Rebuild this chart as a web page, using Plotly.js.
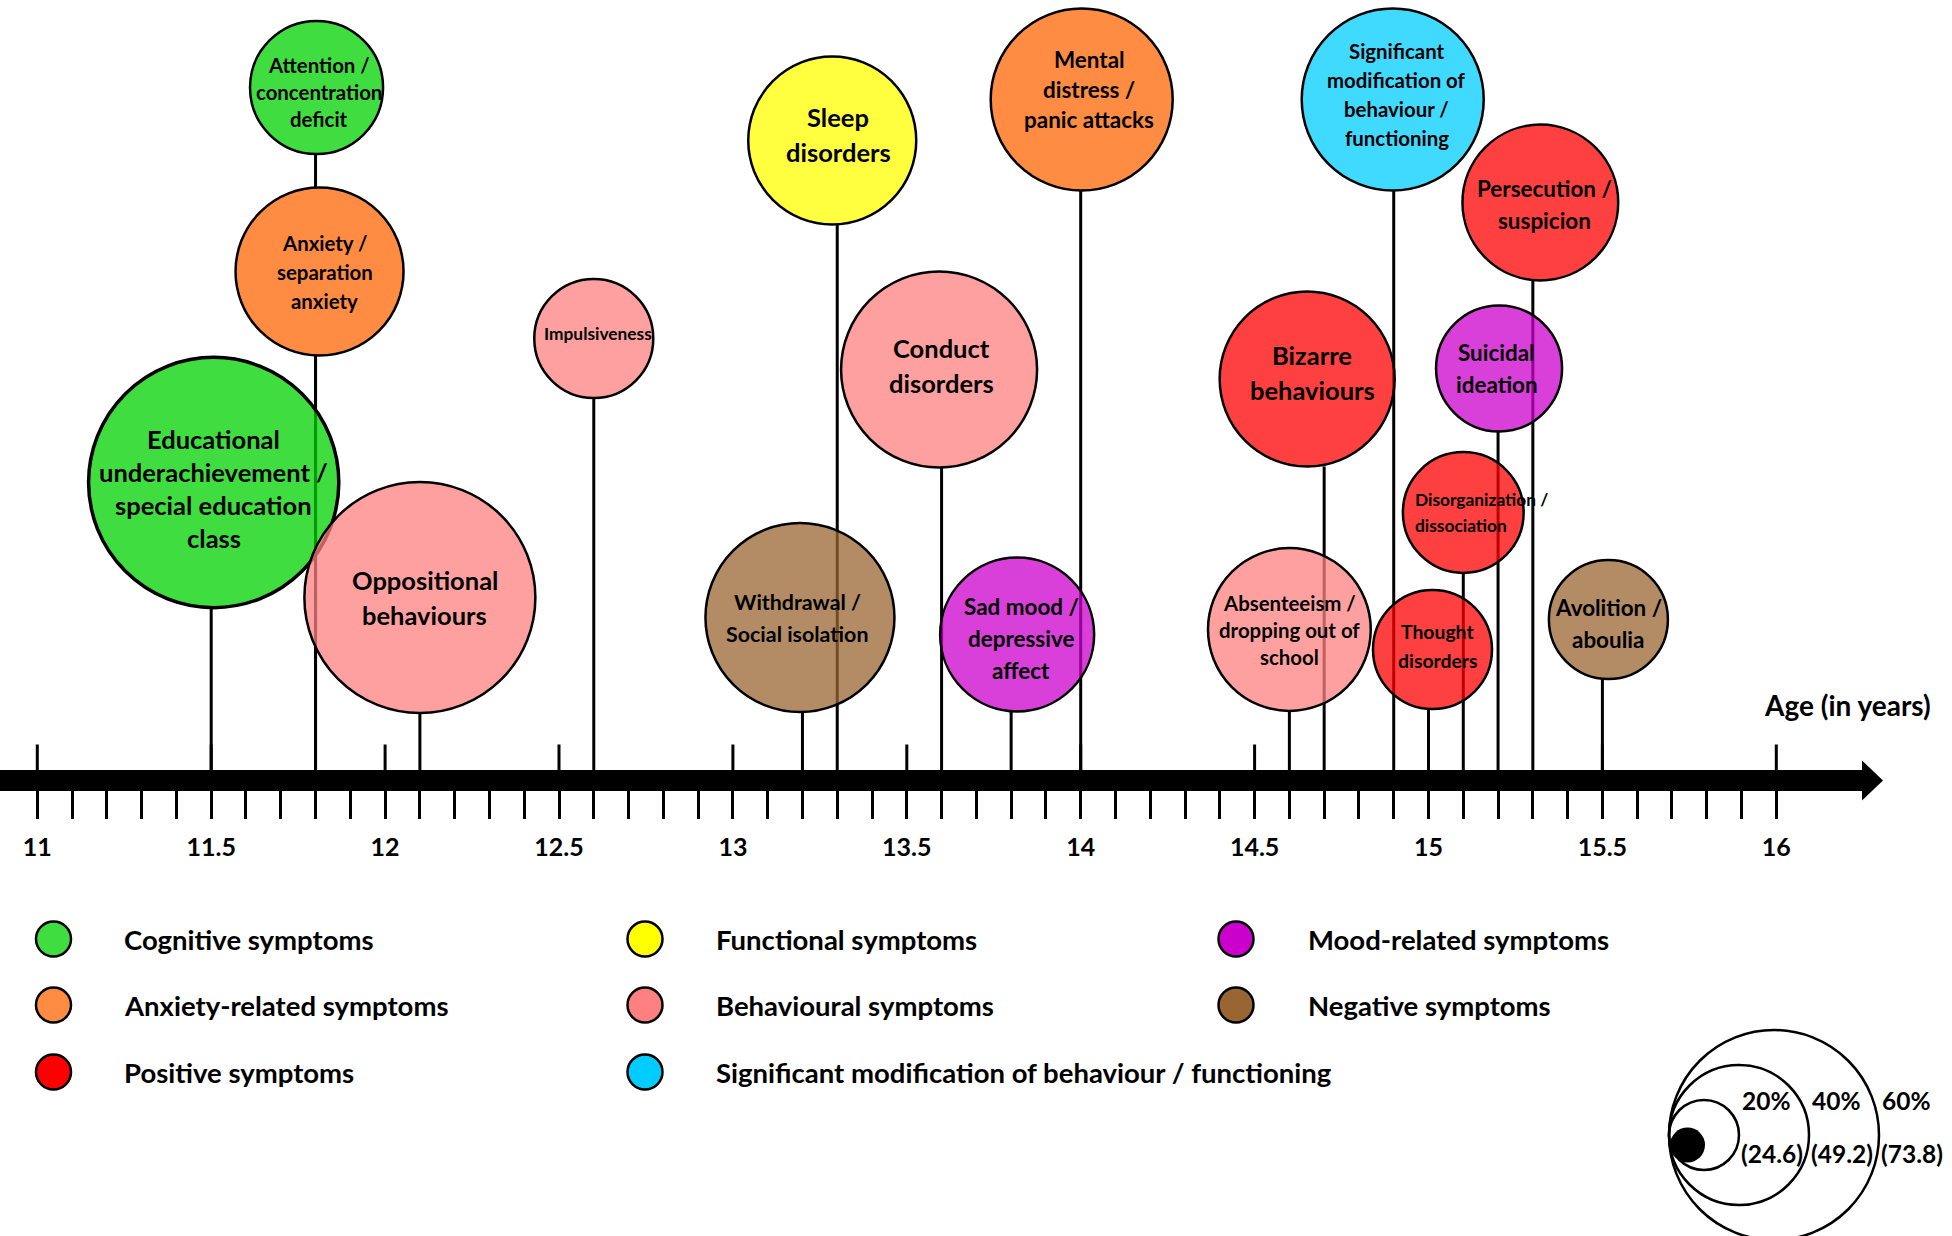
<!DOCTYPE html>
<html><head><meta charset="utf-8">
<script src="https://cdn.plot.ly/plotly-3.0.1.min.js"></script>
<style>html,body{margin:0;padding:0;background:#fff;}#chart{width:1952px;height:1236px;}</style>
</head><body><div id="chart"></div>
<script>
// ================= DATA =================
const symptoms = [
  'Attention /<br>concentration<br>deficit',
  'Anxiety /<br>separation<br>anxiety',
  'Educational<br>underachievement /<br>special education<br>class',
  'Oppositional<br>behaviours',
  'Impulsiveness',
  'Withdrawal /<br>Social isolation',
  'Sleep<br>disorders',
  'Conduct<br>disorders',
  'Sad mood /<br>depressive<br>affect',
  'Mental<br>distress /<br>panic attacks',
  'Absenteeism /<br>dropping out of<br>school',
  'Bizarre<br>behaviours',
  'Significant<br>modification of<br>behaviour /<br>functioning',
  'Thought<br>disorders',
  'Disorganization /<br>dissociation',
  'Suicidal<br>ideation',
  'Persecution /<br>suspicion',
  'Avolition /<br>aboulia'
];
const ageOfOnset = [11.8, 11.8, 11.5, 12.1, 12.6, 13.2, 13.3, 13.6, 13.8, 14.0, 14.6, 14.7, 14.9, 15.0, 15.1, 15.2, 15.3, 15.5];
const prevalencePct = [38, 48, 71.5, 66, 34, 54, 48, 56, 44, 52, 46.5, 50, 52, 34, 34.5, 36, 44.5, 34];
const symptomCategory = [
  'Cognitive symptoms', 'Anxiety-related symptoms', 'Cognitive symptoms', 'Behavioural symptoms',
  'Behavioural symptoms', 'Negative symptoms', 'Functional symptoms', 'Behavioural symptoms',
  'Mood-related symptoms', 'Anxiety-related symptoms', 'Behavioural symptoms', 'Positive symptoms',
  'Significant modification of behaviour / functioning', 'Positive symptoms', 'Positive symptoms',
  'Mood-related symptoms', 'Positive symptoms', 'Negative symptoms'
];
const categories = [
  'Cognitive symptoms', 'Anxiety-related symptoms', 'Positive symptoms',
  'Functional symptoms', 'Behavioural symptoms', 'Significant modification of behaviour / functioning',
  'Mood-related symptoms', 'Negative symptoms'
];
const tickValues = [11, 11.5, 12, 12.5, 13, 13.5, 14, 14.5, 15, 15.5, 16];
const tickLabels = ['11', '11.5', '12', '12.5', '13', '13.5', '14', '14.5', '15', '15.5', '16'];
const axisTitle = 'Age (in years)';
const keyPct = [20, 40, 60];
const keyLabels = ['20%', '40%', '60%'];
const keySubLabels = ['(24.6)', '(49.2)', '(73.8)'];

// ================= LAYOUT / STYLE =================
const categoryLegendColor = ['rgb(64,221,64)', 'rgb(255,140,66)', 'rgb(255,0,0)', 'rgb(255,255,0)',
  'rgb(255,128,128)', 'rgb(0,204,255)', 'rgb(204,0,204)', 'rgb(153,102,51)'];
const categoryBubbleColor = ['rgba(0,210,0,0.75)', 'rgb(255,140,66)', 'rgba(255,0,0,0.75)', 'rgba(255,255,0,0.75)',
  'rgba(255,128,128,0.75)', 'rgba(0,204,255,0.75)', 'rgba(204,0,204,0.75)', 'rgba(153,102,51,0.75)'];
// bubble vertical placement (px above the time axis) and small horizontal nudges (px)
const bubbleHeight = [693, 509, 298, 183, 442, 163, 640, 411, 146, 681, 151, 401.5, 681, 131, 268, 412, 578, 161];
const bubbleShift  = [1, 4, 2.5, 0, 0, -2.5, -5, -2.5, 6, 1, 0, -17, -1, 4, 0, 1, 7.5, 6];
const outlineWidth = [2.5, 2.5, 3.5, 2.5, 2.5, 2.5, 2.5, 2.5, 2.5, 2.5, 2.5, 2.5, 2.5, 2.5, 2.5, 2.5, 2.5, 2.5];
const textDx = [2.5, 5, 0, 5, 4, -2.5, 6, 2.5, 4, 7.5, 0, 5, 4, 5, -49, -2.5, 4, 0];
const textDy = [-4, 0, -5.6, 0, 5, 0, 6, 4, -4, 10, 0, 7, 5, 4, 0, 0, -2, -4];
const lineGap = [27, 29, 33, 35, 0, 32, 35, 35, 32, 30, 27, 35, 29, 29, 26, 32, 32, 32];
const baseFont = [20, 20, 25, 25, 17, 21, 25, 25, 22, 22, 20, 25, 20, 19, 17, 22, 22, 22];
const textAnchor = symptoms.map((s, i) => i === 14 ? 'left' : 'center');

const FONT = 'Lato, "Open Sans", sans-serif';
const FS = 1.02;
const W = 1952, H = 1236;
const PX_PER_YEAR = 347.8, AGE11_PX = 37.3, AXIS_Y = 780.5;
const PX_PER_PCT = 3.5;
const xr = [11 - AGE11_PX / PX_PER_YEAR, 11 + (W - AGE11_PX) / PX_PER_YEAR];
const yr = [AXIS_Y - H, AXIS_Y];
const X = px => xr[0] + px / PX_PER_YEAR;   // page px -> data x
const Y = py => AXIS_Y - py;                 // page px -> data y

const diam = prevalencePct.map(p => p * PX_PER_PCT);
const cx = ageOfOnset.map((a, i) => a + bubbleShift[i] / PX_PER_YEAR);
const cy = bubbleHeight;
const catIdx = symptomCategory.map(c => categories.indexOf(c));

// stems
const stemX = [], stemY = [];
ageOfOnset.forEach((a, i) => { stemX.push(a, a, null); stemY.push(0, cy[i] - diam[i] / 2, null); });

// upper part of the major ticks
const upX = [], upY = [];
tickValues.forEach(v => { upX.push(v, v, null); upY.push(0, 36, null); });
const minorTicks = [];
for (let k = 110; k <= 160; k++) { if (k % 5 !== 0) minorTicks.push(k / 10); }

const traces = [];
traces.push({x: stemX, y: stemY, mode: 'lines', line: {color: '#000', width: 3}, hoverinfo: 'skip', showlegend: false});
traces.push({x: upX, y: upY, mode: 'lines', line: {color: '#000', width: 3}, hoverinfo: 'skip', showlegend: false});
traces.push({
  x: cx, y: cy, mode: 'markers', hoverinfo: 'skip', showlegend: false,
  marker: {size: diam, sizemode: 'diameter', opacity: 1, color: catIdx.map(c => categoryBubbleColor[c]),
           line: {color: '#000', width: outlineWidth}}
});

// legend markers
const LEG_MX = [53.5, 645, 1236], LEG_TX = [123, 715, 1307], LEG_Y = [939, 1005, 1072];
traces.push({
  x: categories.map((c, i) => X(LEG_MX[Math.floor(i / 3)])),
  y: categories.map((c, i) => Y(LEG_Y[i % 3])),
  mode: 'markers', hoverinfo: 'skip', showlegend: false,
  marker: {size: 35, opacity: 1, color: categoryLegendColor, line: {color: '#000', width: 2.5}}
});

// size key
const KEY_X = 1669, KEY_Y = 1135;
const keyD = keyPct.map(p => p * PX_PER_PCT);
traces.push({
  x: keyD.slice().reverse().map(d => X(KEY_X + d / 2)),
  y: keyD.map(() => Y(KEY_Y)),
  mode: 'markers', hoverinfo: 'skip', showlegend: false,
  marker: {size: keyD.slice().reverse(), opacity: 1, color: 'rgba(0,0,0,0)', line: {color: '#000', width: 2.5}}
});
traces.push({x: [X(KEY_X + 18.5)], y: [Y(KEY_Y + 10)], mode: 'markers', hoverinfo: 'skip', showlegend: false,
  marker: {size: 35, opacity: 1, color: '#000', line: {width: 0}}});

const annotations = [];
symptoms.forEach((s, i) => {
  const lines = s.split('<br>');
  const n = lines.length;
  lines.forEach((ln, k) => {
    annotations.push({
      x: cx[i] + textDx[i] / PX_PER_YEAR, y: cy[i] + textDy[i] + ((n - 1) / 2 - k) * lineGap[i],
      xref: 'x', yref: 'y', text: '<b>' + ln + '</b>', showarrow: false,
      xanchor: textAnchor[i], yanchor: 'middle', borderpad: 0,
      font: {family: FONT, size: baseFont[i] * FS, color: '#000'}
    });
  });
});
categories.forEach((c, i) => {
  annotations.push({x: X(LEG_TX[Math.floor(i / 3)]), y: Y(LEG_Y[i % 3]), xref: 'x', yref: 'y',
    text: '<b>' + c + '</b>', showarrow: false, xanchor: 'left', yanchor: 'middle', borderpad: 0,
    font: {family: FONT, size: 27.5, color: '#000'}});
});
keyPct.forEach((p, i) => {
  annotations.push({x: X(KEY_X + keyD[i] + 2), y: Y(1100), xref: 'x', yref: 'y', text: '<b>' + keyLabels[i] + '</b>',
    showarrow: false, xanchor: 'left', yanchor: 'middle', borderpad: 0, font: {family: FONT, size: 24.5, color: '#000'}});
  annotations.push({x: X(KEY_X + keyD[i] + 1), y: Y(1153), xref: 'x', yref: 'y', text: '<b>' + keySubLabels[i] + '</b>',
    showarrow: false, xanchor: 'left', yanchor: 'middle', borderpad: 0, font: {family: FONT, size: 24.5, color: '#000'}});
});
annotations.push({x: X(1847), y: Y(705), xref: 'x', yref: 'y', text: '<b>' + axisTitle + '</b>', showarrow: false,
  xanchor: 'center', yanchor: 'middle', font: {family: FONT, size: 28, color: '#000'}});

const ARROW_BASE = X(1862), ARROW_TIP = X(1883);
const shapes = [
  {type: 'line', xref: 'x', yref: 'y', x0: xr[0], x1: ARROW_BASE + 0.002, y0: 0, y1: 0, line: {color: '#000', width: 21}},
  {type: 'path', xref: 'x', yref: 'y', path: `M ${ARROW_BASE},-20 L ${ARROW_TIP},0 L ${ARROW_BASE},20 Z`,
   fillcolor: '#000', line: {width: 0}}
];

const layout = {
  width: W, height: H, margin: {l: 0, r: 0, t: 0, b: 0, pad: 0},
  paper_bgcolor: '#fff', plot_bgcolor: '#fff', showlegend: false,
  xaxis: {range: xr, anchor: 'free', position: (H - AXIS_Y) / H, showgrid: false, zeroline: false, showline: false,
    tickmode: 'array', tickvals: tickValues, ticktext: tickLabels.map(t => '<b>' + t + '</b>'),
    ticks: 'outside', ticklen: 37, tickwidth: 3, tickcolor: '#000', ticklabelstandoff: 7,
    tickfont: {family: FONT, size: 25, color: '#000'},
    minor: {tickmode: 'array', tickvals: minorTicks, ticks: 'outside', ticklen: 37, tickwidth: 3, tickcolor: '#000', showgrid: false},
    fixedrange: true},
  yaxis: {range: yr, visible: false, fixedrange: true},
  shapes: shapes, annotations: annotations
};
Plotly.newPlot('chart', traces, layout, {displayModeBar: false, staticPlot: true});
</script></body></html>
